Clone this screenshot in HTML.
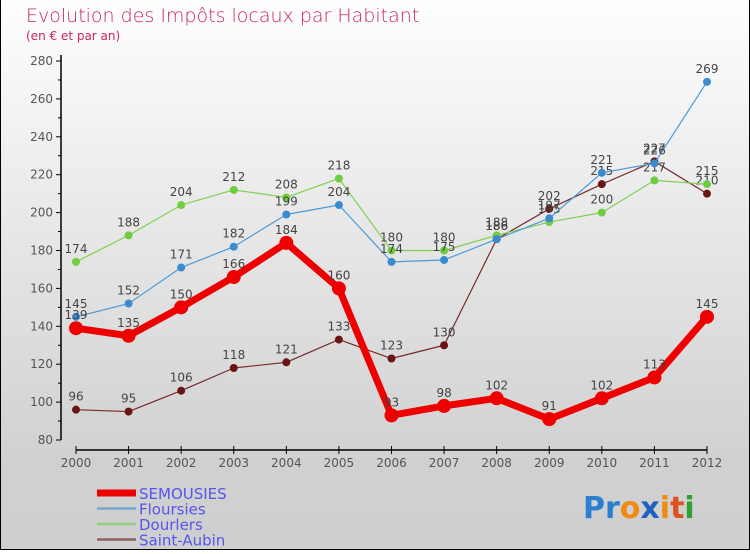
<!DOCTYPE html>
<html><head><meta charset="utf-8"><style>
body{margin:0;width:750px;height:550px;overflow:hidden;font-family:"DejaVu Sans","Liberation Sans",sans-serif}
#wrap{position:relative;width:748px;height:549px;border:1px solid #000;border-top:none;background:linear-gradient(#fefefe,#d0d0d0 85%,#cfcfcf)}
svg text{font-family:"DejaVu Sans","Liberation Sans",sans-serif}
</style></head><body>
<div id="wrap">
<svg id="c" width="750" height="550">
<text x="25" y="22" font-size="19" fill="#c8285a" font-weight="200">Evolution des Impôts locaux par Habitant</text>
<text x="25" y="40" font-size="12" fill="#c8285a">(en € et par an)</text>
<g id="axes"></g><g id="series"></g><g id="legend"></g>
<text x="582" y="518" font-size="30" font-weight="bold"><tspan fill="#2a7fd0">Pr</tspan><tspan fill="#f08a10">o</tspan><tspan fill="#2060c0">x</tspan><tspan fill="#f08a10">i</tspan><tspan fill="#e05020">t</tspan><tspan fill="#30a030">i</tspan></text>
</svg></div>
<script>
const years=["2000","2001","2002","2003","2004","2005","2006","2007","2008","2009","2010","2011","2012"];
const semousies=[139,135,150,166,184,160,93,98,102,91,102,113,145];
const floursies=[145,152,171,182,199,204,174,175,186,197,221,226,269];
const dourlers=[174,188,204,212,208,218,180,180,188,195,200,217,215];
const saintAubin=[96,95,106,118,121,133,123,130,186,202,215,227,210];
const yTicks=[80,100,120,140,160,180,200,220,240,260,280];
const NS="http://www.w3.org/2000/svg";
const X=i=>75+i*(706-75)/(years.length-1);
const Y=v=>440-(v-80)*(440-61)/200;
function mk(t,a,p){const e=document.createElementNS(NS,t);for(const k in a)e.setAttribute(k,a[k]);p.appendChild(e);return e;}
const ax=document.getElementById('axes');
let l=mk('line',{x1:60,y1:55,x2:60,y2:440,stroke:'#000','stroke-width':1.5},ax);


for(const v of yTicks){
 let t=mk('line',{x1:55,y1:Y(v),x2:60,y2:Y(v),stroke:'#000'},ax);
 
 
 let tx=mk('text',{x:52,y:Y(v)+4,'text-anchor':'end','font-size':12,fill:'#555'},ax);tx.textContent=v;
 
 
 if(v<280){let m=mk('line',{x1:57,y1:Y(v+10),x2:60,y2:Y(v+10),stroke:'#000'},ax);
 
 }
}
l=mk('line',{x1:75,y1:450,x2:706,y2:450,stroke:'#000','stroke-width':1.5},ax);


years.forEach((y,i)=>{
 let t=mk('line',{x1:X(i),y1:446,x2:X(i),y2:454,stroke:'#000'},ax);
 
 
 let tx=mk('text',{x:X(i),y:467,'text-anchor':'middle','font-size':12,fill:'#555'},ax);tx.textContent=y;
 
 
});
const series=[
 {name:'Saint-Aubin',d:saintAubin,line:'#7a2a2a',pt:'#6a1515',w:1.2,r:4},
 {name:'Dourlers',d:dourlers,line:'#80d050',pt:'#70cc40',w:1.2,r:4},
 {name:'Floursies',d:floursies,line:'#4a9ad8',pt:'#3a8ad0',w:1.2,r:4},
 {name:'SEMOUSIES',d:semousies,line:'#ee0000',pt:'#ee0000',w:7,r:7}
];
const sg=document.getElementById('series');
series.forEach(s=>{
 const g=mk('g',{},sg);
 
 
 const p=mk('polyline',{points:s.d.map((v,i)=>X(i)+','+Y(v)).join(' '),fill:'none',stroke:s.line,'stroke-width':s.w,'stroke-linejoin':'round'},g);
 
 
 s.d.forEach((v,i)=>{
  const c=mk('circle',{cx:X(i),cy:Y(v),r:s.r,fill:s.pt},g);
  
  
  const t=mk('text',{x:X(i),y:Y(v)-9,'text-anchor':'middle','font-size':12,fill:'#444'},g);t.textContent=v;
  
  
 });
});
const lg=document.getElementById('legend');
const leg=[['SEMOUSIES','#ee0000',7],['Floursies','#7aa8cc',2.5],['Dourlers','#90d080',2.5],['Saint-Aubin','#8a6060',2.5]];
leg.forEach((e,i)=>{
 const y=493+i*15.5;
 const g=mk('g',{},lg);
 
 
 mk('line',{x1:96,y1:y,x2:135,y2:y,stroke:e[1],'stroke-width':e[2]},g);
 const t=mk('text',{x:138,y:y+6,'font-size':15,fill:'#5555ee'},g);t.textContent=e[0];
});
</script>
</body></html>
